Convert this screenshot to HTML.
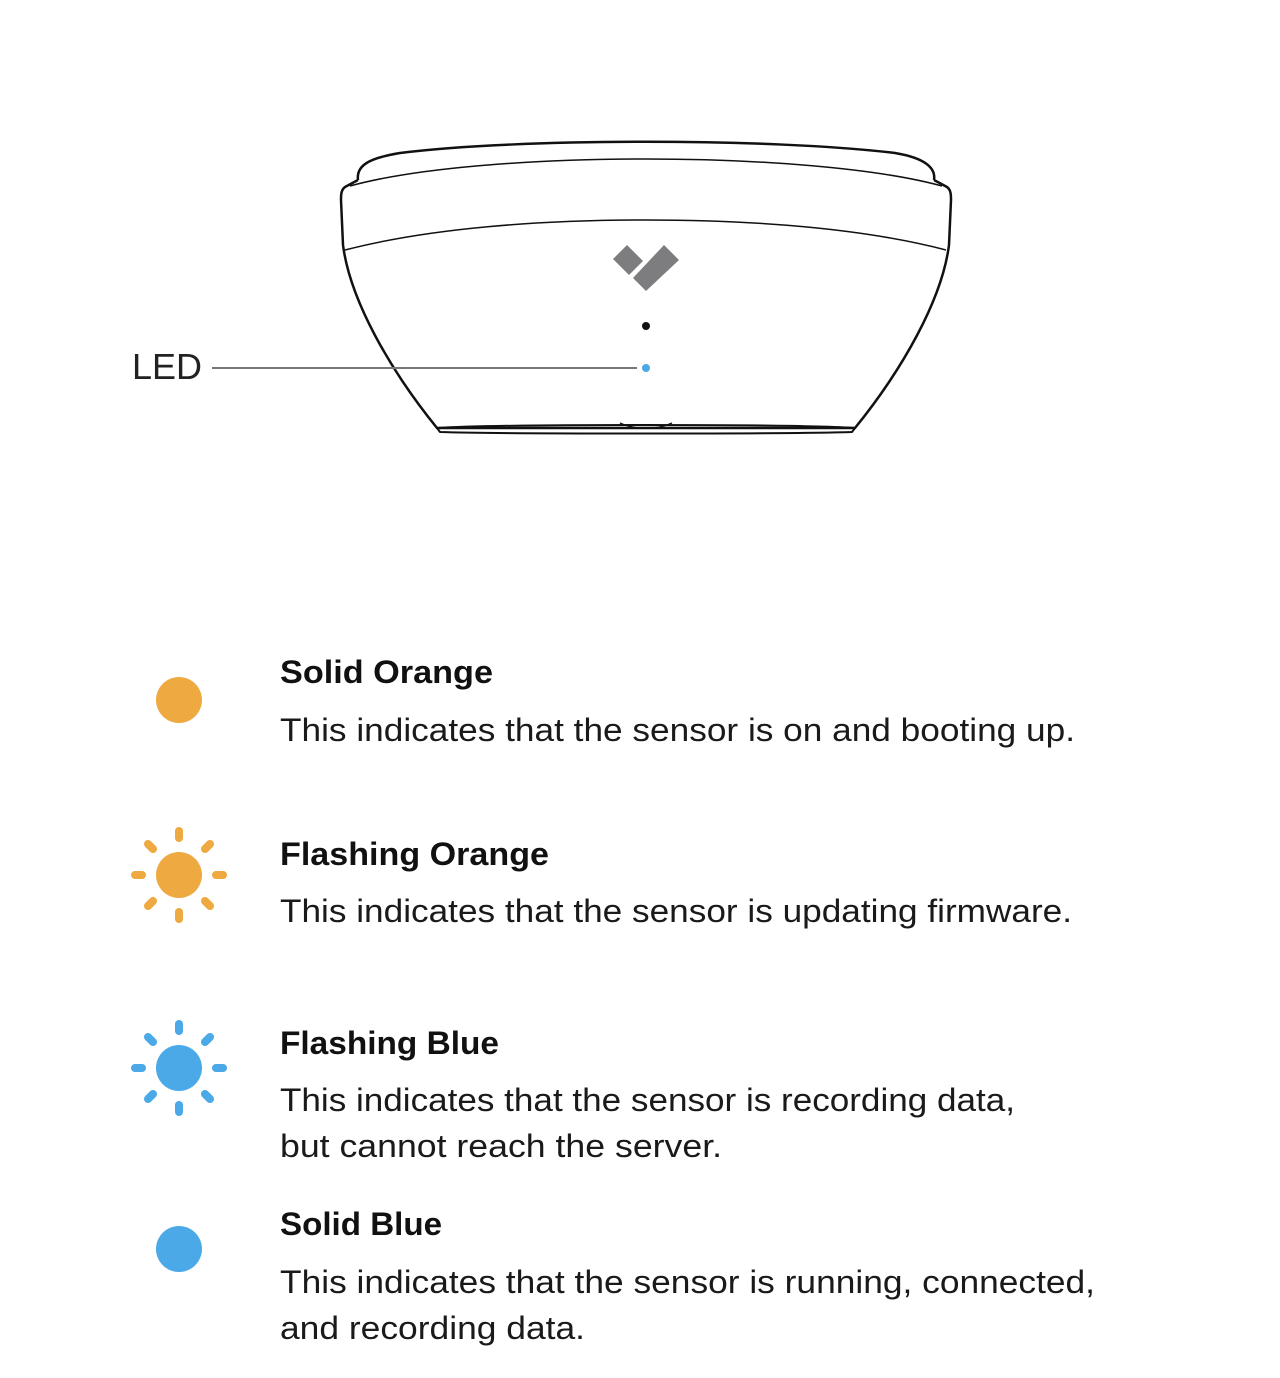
<!DOCTYPE html>
<html><head><meta charset="utf-8"><style>
html,body{margin:0;padding:0;background:#fff;width:1280px;height:1378px;overflow:hidden}
svg{display:block}
.t{font-family:"Liberation Sans",sans-serif;font-weight:bold;font-size:32px;fill:#111}
.d{font-family:"Liberation Sans",sans-serif;font-size:32px;fill:#1a1a1a}
</style></head><body>
<svg width="1280" height="1378" viewBox="0 0 1280 1378" xmlns="http://www.w3.org/2000/svg">
<g fill="none" stroke="#111" stroke-width="2.5" stroke-linejoin="round">
  <path d="M358,180 C356,165 370,158 400,153 C520,138 770,138 895,153 C925,158 936,168 934,180"/>
  <path d="M350,186 C480,150 810,150 942,186" stroke-width="1.5"/>
  <path d="M358,180 L345,187 C341,190 341,195 341,200 L343,245 C350,300 390,370 437,428 L855,428 C902,370 942,300 949,245 L951,200 C951,195 951,190 947,187 L934,180"/>
  <path d="M345,250 C430,228 540,220 646,220 C752,220 862,228 946,250" stroke-width="1.5"/>
  <path d="M437,428 C500,424 790,424 855,428 L852,432 C790,434 500,434 440,432 Z" stroke-width="2"/>
  <path d="M620,423 C635,430 657,430 672,423" stroke-width="1.3"/>
</g>
<g fill="#7d7d7f">
  <polygon points="613,259 627,245 643,261 629,275"/>
  <polygon points="633,278 664,245 679,260 646,291"/>
</g>
<circle cx="646" cy="326" r="4" fill="#111"/>
<line x1="212" y1="368" x2="637" y2="368" stroke="#777" stroke-width="2"/>
<circle cx="646" cy="368" r="4" fill="#4aa9e6"/>
<text x="132" y="379" font-family="Liberation Sans, sans-serif" font-size="36" fill="#222" textLength="70" lengthAdjust="spacingAndGlyphs">LED</text>

<circle cx="179" cy="700" r="23" fill="#eea941"/>
<g stroke="#eea941" stroke-width="8" stroke-linecap="round">
  <circle cx="179" cy="875" r="23" fill="#eea941" stroke="none"/>
  <line x1="179" y1="831" x2="179" y2="838"/><line x1="179" y1="912" x2="179" y2="919"/>
  <line x1="135" y1="875" x2="142" y2="875"/><line x1="216" y1="875" x2="223" y2="875"/>
  <line x1="148" y1="844" x2="153" y2="849"/><line x1="205" y1="901" x2="210" y2="906"/>
  <line x1="210" y1="844" x2="205" y2="849"/><line x1="153" y1="901" x2="148" y2="906"/>
</g>
<g stroke="#4aa9e6" stroke-width="8" stroke-linecap="round">
  <circle cx="179" cy="1068" r="23" fill="#4aa9e6" stroke="none"/>
  <line x1="179" y1="1024" x2="179" y2="1031"/><line x1="179" y1="1105" x2="179" y2="1112"/>
  <line x1="135" y1="1068" x2="142" y2="1068"/><line x1="216" y1="1068" x2="223" y2="1068"/>
  <line x1="148" y1="1037" x2="153" y2="1042"/><line x1="205" y1="1094" x2="210" y2="1099"/>
  <line x1="210" y1="1037" x2="205" y2="1042"/><line x1="153" y1="1094" x2="148" y2="1099"/>
</g>
<circle cx="179" cy="1249" r="23" fill="#4aa9e6"/>

<text class="t" x="280" y="683" textLength="213" lengthAdjust="spacingAndGlyphs">Solid Orange</text>
<text class="d" x="280" y="741" textLength="795" lengthAdjust="spacingAndGlyphs">This indicates that the sensor is on and booting up.</text>
<text class="t" x="280" y="865" textLength="269" lengthAdjust="spacingAndGlyphs">Flashing Orange</text>
<text class="d" x="280" y="922" textLength="792" lengthAdjust="spacingAndGlyphs">This indicates that the sensor is updating firmware.</text>
<text class="t" x="280" y="1054" textLength="219" lengthAdjust="spacingAndGlyphs">Flashing Blue</text>
<text class="d" x="280" y="1111" textLength="735" lengthAdjust="spacingAndGlyphs">This indicates that the sensor is recording data,</text>
<text class="d" x="280" y="1157" textLength="442" lengthAdjust="spacingAndGlyphs">but cannot reach the server.</text>
<text class="t" x="280" y="1235" textLength="162" lengthAdjust="spacingAndGlyphs">Solid Blue</text>
<text class="d" x="280" y="1293" textLength="815" lengthAdjust="spacingAndGlyphs">This indicates that the sensor is running, connected,</text>
<text class="d" x="280" y="1339" textLength="305" lengthAdjust="spacingAndGlyphs">and recording data.</text>
</svg>
</body></html>
